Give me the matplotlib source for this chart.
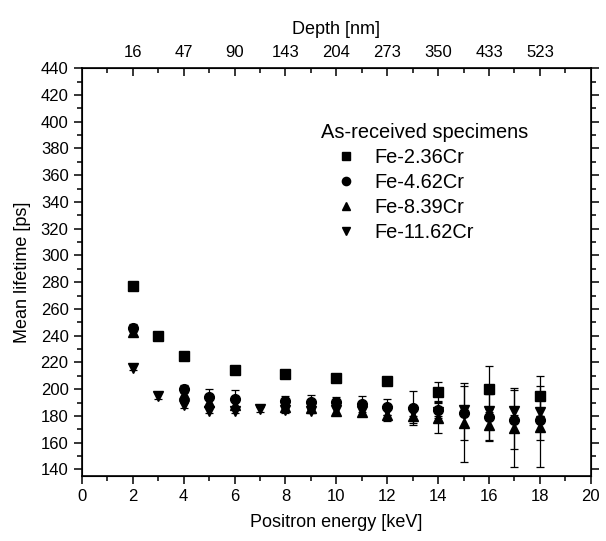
import numpy as np
import matplotlib
matplotlib.use("Agg")
import matplotlib.pyplot as plt
from matplotlib.ticker import MultipleLocator, FixedLocator

plt.rcParams['font.family'] = ['Liberation Sans', 'DejaVu Sans']

# Fe-2.36Cr
e_236 = [2, 3, 4, 6, 8, 10, 12, 14, 16, 18]
t_236 = [277, 240, 225, 214, 211, 208.5, 206, 198, 200, 195]
s_236 = [1, 1, 1, 1.5, 1.5, 3, 1.5, 7, 17, 15]

# Fe-4.62Cr
e_462 = [2, 4, 5, 6, 8, 9, 10, 11, 12, 13, 14, 15, 16, 17, 18]
t_462 = [246, 200, 194, 192.5, 191, 190.5, 190.5, 189, 187, 186, 184.5, 182, 179, 177, 177]
s_462 = [3, 3, 6, 7, 4, 5, 4, 6, 6, 12.5, 6, 20, 17, 22, 15]

# Fe-8.39Cr
e_839 = [2, 4, 5, 6, 8, 9, 10, 11, 12, 13, 14, 15, 16, 17, 18]
t_839 = [243, 196.5, 190.5, 188, 187, 186, 183.5, 183, 181, 180, 178.5, 175, 173.5, 171, 172]
s_839 = [3, 2, 3, 3, 3, 3, 3, 3, 5, 5, 11.5, 29.5, 12, 29.5, 30]

# Fe-11.62Cr
e_1162 = [2, 3, 4, 5, 6, 7, 8, 9, 10, 11, 12, 13, 14, 15, 16, 17, 18]
t_1162 = [216, 195, 188, 184, 184, 185, 184.5, 184, 184.5, 184, 183.5, 183, 183, 184.5, 183.5, 184, 183]
s_1162 = [2, 2, 2, 2, 2, 2, 2, 2, 3, 3, 3, 3, 3, 3, 3, 3, 3]

depth_pos = [2, 4, 6, 8, 10, 12, 14, 16, 18]
depth_labels = ['16', '47', '90', '143', '204', '273', '350', '433', '523']

fig = plt.figure(figsize=(6.06, 5.41), dpi=100)
ax = fig.add_axes([0.135, 0.12, 0.84, 0.754])

series = [
    (e_236, t_236, s_236, 's', 6.5, 'Fe-2.36Cr'),
    (e_462, t_462, s_462, 'o', 7, 'Fe-4.62Cr'),
    (e_839, t_839, s_839, '^', 7.5, 'Fe-8.39Cr'),
    (e_1162, t_1162, s_1162, 'v', 7.5, 'Fe-11.62Cr'),
]
for e, t, s, m, ms, lab in series:
    ax.errorbar(e, t, yerr=s, fmt=m, color='black', ms=ms, ecolor='black',
                elinewidth=0.9, capsize=3, capthick=0.9, label=lab)

ax.set_xlim(0, 20)
ax.set_ylim(135, 440)
ax.xaxis.set_major_locator(MultipleLocator(2))
ax.xaxis.set_minor_locator(MultipleLocator(1))
ax.yaxis.set_minor_locator(MultipleLocator(10))
ax.set_yticks(np.arange(140, 441, 20))
ax.tick_params(which='both', direction='out', right=True, labelsize=12, width=1.1)
ax.tick_params(which='major', length=6)
ax.tick_params(which='minor', length=3.5)
for sp in ax.spines.values():
    sp.set_linewidth(1.2)

ax.set_xlabel('Positron energy [keV]', fontsize=13, labelpad=7)
ax.set_ylabel('Mean lifetime [ps]', fontsize=13, labelpad=7)

top = ax.twiny()
top.set_xlim(ax.get_xlim())
top.xaxis.set_major_locator(FixedLocator(depth_pos))
top.set_xticklabels(depth_labels)
top.xaxis.set_minor_locator(FixedLocator([1, 3, 5, 7, 9, 11, 13, 15, 17, 19]))
top.tick_params(which='both', direction='in', labelsize=12, width=1.1, pad=6)
top.tick_params(which='major', length=6)
top.tick_params(which='minor', length=3.5)
top.set_xlabel('Depth [nm]', fontsize=13, labelpad=8)

handles, labels = ax.get_legend_handles_labels()
handles = [h[0] for h in handles]
leg = ax.legend(handles, labels, title='As-received specimens', loc='upper left',
                bbox_to_anchor=(0.47, 0.865), frameon=False, fontsize=14.4,
                title_fontsize=14.4, alignment='left', handlelength=2.5,
                handletextpad=0.15, labelspacing=0.3, borderpad=0, borderaxespad=0,
                markerscale=0.85)

fig.savefig('out.png', dpi=100)
